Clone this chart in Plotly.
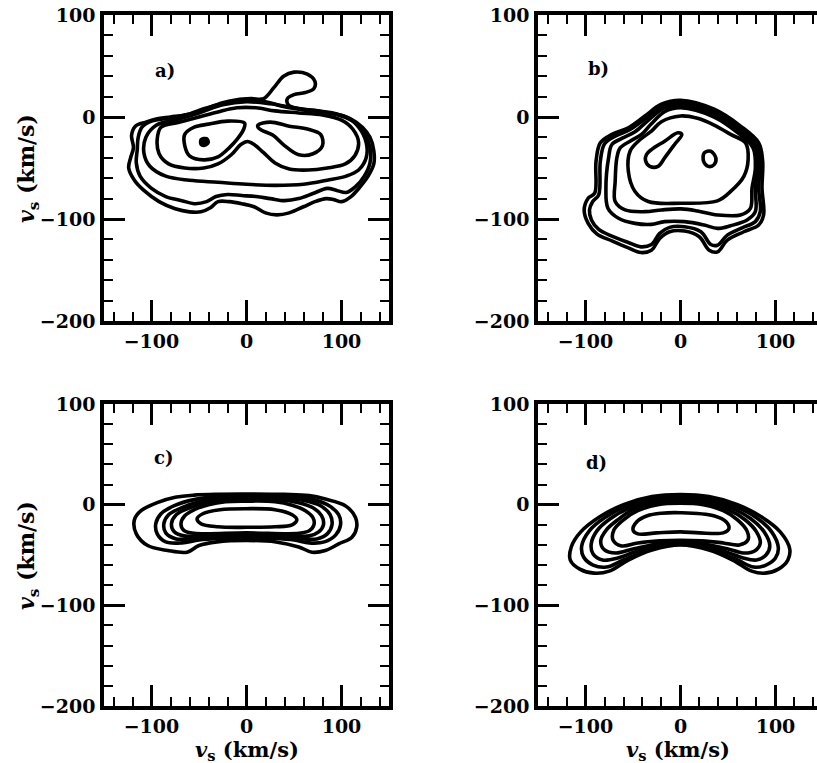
import plotly.graph_objects as go

# ---------------- data: contour lines (km/s) ----------------
# panel a)
A1 = [(-106,-5),(-95,-2),(-80,0),(-65,2),(-50,5),(-40,9),(-25,14),(-10,17),(5,18),(18,18),
      (29,29),(39,40),(50,44),(64,42),(72,35),(71,28),(62,24),(50,22),(43,18),(44,12),
      (55,8),(75,6),(95,3),(110,-2),(122,-10),(130,-20),(134,-33),(134,-46),(128,-58),(120,-68),
      (110,-78),(100,-83),(92,-81),(84,-80),(72,-83),(60,-88),(45,-94),(32,-96),(20,-94),(8,-88),
      (-5,-85),(-18,-83),(-30,-83),(-38,-89),(-48,-93),(-60,-93),(-75,-90),(-92,-83),(-108,-72),
      (-118,-62),(-124,-50),(-122,-40),(-119,-30),(-121,-18),(-117,-9)]
A2 = [(-100,-4),(-80,-1),(-60,3),(-45,8),(-25,13),(0,16),(20,15),(40,10),(60,7),(80,5),(100,1),
      (115,-6),(124,-16),(130,-30),(130,-45),(124,-58),(115,-68),(105,-74),(95,-72),(85,-70),
      (70,-75),(55,-80),(40,-82),(25,-80),(10,-78),(-5,-77),(-20,-76),(-32,-78),(-42,-83),
      (-55,-85),(-68,-82),(-85,-78),(-100,-70),(-112,-58),(-116,-45),(-115,-32),(-114,-20),(-110,-10)]
A3 = [(-95,-8),(-75,-3),(-50,4),(-25,12),(0,15),(25,13),(50,9),(80,5),(105,0),(118,-10),
      (126,-25),(126,-40),(118,-52),(105,-58),(85,-62),(60,-66),(30,-67),(0,-66),(-30,-64),
      (-60,-62),(-85,-58),(-102,-48),(-108,-35),(-106,-20)]
A4 = [(-90,-10),(-70,-5),(-50,0),(-30,5),(-10,9),(10,9),(30,6),(55,4),(80,2),(100,-3),(112,-12),
      (118,-25),(114,-38),(104,-46),(85,-50),(65,-52),(45,-51),(30,-45),(18,-35),(8,-27),(1,-24),
      (-6,-27),(-16,-37),(-30,-46),(-45,-50),(-65,-50),(-82,-46),(-92,-36),(-94,-22)]
A5L = [(-65,-17),(-55,-10),(-40,-7),(-20,-4),(-2,-6),(-3,-12),(-10,-22),(-18,-30),(-30,-39),
       (-45,-42),(-60,-38),(-65,-28)]
A5R = [(12,-8),(25,-5),(45,-9),(65,-12),(78,-17),(80,-28),(70,-36),(55,-37),(40,-28),(28,-18),
       (16,-13),(12,-10)]
A6 = [(-48,-22),(-42,-21),(-40,-25),(-44,-28),(-48,-27)]

# panel b)
B1 = [(0,16.4),(35.4,7.6),(63.2,-8.9),(82.3,-25.3),(86.5,-43.4),(85.8,-69.7),(87.5,-96),(82.3,-105.9),
      (66.7,-112.5),(49.3,-120.7),(38.9,-132.2),(30.2,-130.6),(19.8,-117.4),(4.2,-111.8),(-11.5,-112.5),
      (-21.9,-119.1),(-30.6,-130.6),(-41.7,-132.9),(-54.9,-128.3),(-72.2,-121.4),(-87.8,-114.8),
      (-97.2,-104.3),(-101.4,-91.1),(-97.2,-79.6),(-90.3,-74.7),(-88.9,-43.4),(-84.4,-25.3),
      (-72.2,-17.1),(-54.9,-10.5),(-37.5,1),(-20.1,12.5)]
B2 = [(0,14.1),(35.4,5.3),(63.2,-11.2),(80.6,-26.9),(84,-43.4),(82.3,-69.7),(84,-92.8),(78.8,-102.6),
      (64.9,-108.6),(49.3,-115.8),(38.9,-125.7),(31.9,-125),(21.5,-112.5),(4.2,-107.6),(-11.5,-108.2),
      (-21.9,-114.1),(-30.6,-125),(-41.7,-127.3),(-54.9,-123),(-72.2,-116.8),(-86.1,-110.2),
      (-93.75,-101),(-95.8,-91.1),(-92.4,-82.9),(-86.1,-76.3),(-84.4,-43.4),(-79.9,-26.3),
      (-68.75,-18.75),(-53.1,-12.2),(-35.8,-0.7),(-18.4,10.9)]
B3 = [(0,11.8),(35.4,2.6),(62.5,-13.8),(78.8,-28.6),(81.6,-46.7),(78.8,-69.7),(78.8,-92.8),(70.1,-101),
      (52.8,-106.6),(38.9,-109.2),(25,-105.9),(4.2,-102.6),(-16.7,-102.6),(-30.6,-105.3),(-47.9,-104.3),
      (-65.3,-99.3),(-76.4,-89.5),(-78.5,-69.7),(-75.7,-40.1),(-72.2,-27),(-61.8,-21),(-47.9,-14.5),
      (-34,-3.3),(-17.4,8.6)]
B4 = [(0,9.2),(35.4,0),(61.5,-16.4),(76.4,-30.3),(78.8,-50),(75.3,-69.7),(73.6,-89.5),(63.2,-96),
      (38.9,-96),(18,-92.1),(0.7,-90.1),(-20.1,-91.1),(-37.5,-92.8),(-58.3,-91.1),(-68.75,-82.9),
      (-68.75,-63.2),(-67,-40.1),(-63.5,-30.3),(-53.1,-23.7),(-41,-17.1),(-30.6,-6.6),(-16.7,5.3)]
B5 = [(0,1),(18,-1.3),(35.4,-7.9),(52.8,-17.1),(68.4,-25.3),(71.2,-41.8),(66.7,-58.2),(52.8,-73),
      (38.9,-82.2),(0.7,-84.5),(-34,-82.9),(-47.9,-73),(-54.9,-53.3),(-53.1,-33.6),(-44.4,-23.7),
      (-30.6,-13.8),(-20.1,-4.6)]
B6L = [(-35.8,-36.8),(-30.6,-31.9),(-16.7,-23.7),(-2.8,-15.5),(1.4,-17.1),(-6.25,-26.9),(-16.7,-40.1),
       (-23.6,-48.4),(-32.3,-48.4),(-36.8,-42.8)]
B6R = [(25,-35.2),(31.9,-33.6),(37.2,-40.1),(35.4,-46.7),(29.2,-48.4),(24.3,-43.4)]

# panel c)
C1 = [(0,10.6),(40,10.2),(66,9),(83,5.6),(104,-1),(114.6,-12.5),(116,-22.4),(111,-32.3),(97,-39),
      (83,-45.5),(69,-47.2),(55,-42),(31,-37),(0,-35.6),(-31,-37),(-50,-40.6),(-62.5,-47.2),
      (-83,-45.5),(-104,-40.6),(-116,-29),(-118,-15),(-111,-6),(-94,2),(-75,7.3),(-55,9.5),(-30,10.4)]
C2 = [(0,8.5),(40,8),(65,6),(85,0),(97,-10),(99,-20),(94,-30),(82,-37),(66,-38),(50,-35),(25,-33.5),
      (0,-33),(-25,-33.5),(-50,-35),(-68,-38),(-85,-37),(-94,-29),(-95.5,-19),(-90,-9),(-76,-1),
      (-55,5),(-30,8)]
C3 = [(0,7),(40,6.5),(62,4),(78,-1),(88,-10),(90,-20),(85,-29),(74,-34),(60,-34),(40,-32),(0,-31.5),
      (-40,-32),(-60,-34),(-74,-34),(-85,-28),(-87,-19),(-82,-10),(-68,-3),(-50,3),(-28,6.5)]
C4 = [(0,5.5),(35,5),(55,2),(70,-3),(79,-11),(81,-20),(76,-27),(66,-31),(50,-31),(0,-30),(-50,-31),
      (-66,-31),(-76,-27),(-79,-19),(-74,-10),(-62,-4),(-45,1.5),(-25,4.8)]
C5 = [(0,3.5),(30,3),(48,-0.5),(62,-6),(70,-13),(71,-20),(66,-26),(55,-28.5),(0,-28),(-55,-28.5),
      (-66,-25.5),(-69,-19),(-65,-11),(-55,-5),(-40,0),(-22,3)]
C6 = [(0,-4),(30,-5),(48,-10),(53,-15),(48,-20),(30,-22),(0,-22.5),(-30,-22),(-48,-19),(-52,-14),
      (-46,-9),(-28,-5)]

# panel d)
D1 = [(0,10),(30,8),(60,0),(85,-12),(105,-27),(115,-44),(113,-55),(103,-64),(89,-68),(75,-66),
      (55,-55),(30,-45),(0,-40),(-30,-45),(-55,-55),(-75,-66),(-91,-68),(-106,-64),(-116,-55),
      (-115,-42),(-105,-27),(-85,-12),(-60,0),(-30,8)]
D2 = [(0,8),(30,6),(58,-2),(80,-13),(96,-27),(103,-43),(100,-53),(90,-60),(77,-62),(60,-55),(30,-44),
      (0,-39),(-30,-44),(-60,-55),(-78,-62),(-92,-60),(-102,-52),(-104,-41),(-96,-26),(-80,-13),
      (-58,-2),(-30,6)]
D3 = [(0,6),(28,4),(54,-3.5),(74,-14),(88,-27),(94,-41),(90,-50),(80,-55),(66,-53),(48,-47),(25,-41),
      (0,-38),(-25,-41),(-48,-47),(-66,-53),(-82,-55),(-92,-49),(-94,-39),(-88,-26),(-74,-14),
      (-54,-3.5),(-28,4)]
D4 = [(0,4),(26,2),(50,-5),(68,-15),(80,-27),(84,-38),(78,-46),(66,-48),(50,-44),(25,-39),(0,-37),
      (-25,-39),(-50,-44),(-68,-48),(-80,-45),(-84,-36),(-78,-25),(-66,-15),(-50,-5),(-26,2)]
D5 = [(0,1.5),(24,0),(45,-6),(60,-15),(70,-26),(71,-35),(62,-40),(45,-38),(22,-36),(0,-35.5),
      (-22,-36),(-45,-38),(-62,-41),(-71,-35),(-70,-25),(-60,-15),(-45,-6),(-24,0)]
D6 = [(0,-8),(35,-11),(48,-17),(51,-24),(45,-28),(20,-28),(0,-27),(-25,-28),(-45,-29),(-50,-25),
      (-46,-17),(-35,-11),(-20,-8.5)]

PANELS = {
    "a": [A1, A2, A3, A4, A5L, A5R],
    "b": [B1, B2, B3, B4, B5, B6L, B6R],
    "c": [C1, C2, C3, C4, C5, C6],
    "d": [D1, D2, D3, D4, D5, D6],
}
FILLED = {"a": [A6]}
LETTERS = ["a)", "b)", "c)", "d)"]
XTICKS = [-100, 0, 100]
YTICKS = [-200, -100, 0, 100]
AXIS_LABEL = "<i>v</i><sub>s</sub> (km/s)"

# ---------------- figure ----------------
W, H = 817, 763
FONT = "DejaVu Serif"
fig = go.Figure()
axes = {"a": ("x", "y"), "b": ("x2", "y2"), "c": ("x3", "y3"), "d": ("x4", "y4")}


def closed(pts):
    xs = [p[0] for p in pts] + [pts[0][0]]
    ys = [p[1] for p in pts] + [pts[0][1]]
    return xs, ys


for key, lines in PANELS.items():
    xa, ya = axes[key]
    for pts in lines:
        xs, ys = closed(pts)
        fig.add_trace(go.Scatter(x=xs, y=ys, mode="lines", xaxis=xa, yaxis=ya,
                                 line=dict(color="black", width=3.6, shape="spline", smoothing=1.0),
                                 showlegend=False, hoverinfo="skip"))
    for pts in FILLED.get(key, []):
        xs, ys = closed(pts)
        fig.add_trace(go.Scatter(x=xs, y=ys, mode="lines", xaxis=xa, yaxis=ya, fill="toself",
                                 fillcolor="black",
                                 line=dict(color="black", width=3, shape="spline", smoothing=1.0),
                                 showlegend=False, hoverinfo="skip"))


def xdom(l, r):
    return [l / W, min(r / W, 1.0)]


def ydom(t, b):
    return [1 - b / H, 1 - t / H]


tickfont = dict(family=FONT, size=19, color="black", weight="bold")
titlefont = dict(family=FONT, size=21, color="black", weight="bold")
base = dict(showline=True, linecolor="black", linewidth=3.5, ticks="inside", ticklen=21,
            tickwidth=2.6, tickcolor="black", showgrid=False, zeroline=False, tickfont=tickfont,
            automargin=False,
            minor=dict(ticks="inside", ticklen=9, tickwidth=2.4, tickcolor="black", dtick=20,
                       showgrid=False))

layout = dict(width=W, height=H, paper_bgcolor="white", plot_bgcolor="white",
              margin=dict(l=0, r=0, t=0, b=0, autoexpand=False), showlegend=False)

geo = {
    "a": dict(xd=xdom(104, 389), yd=ydom(15, 321), xr=[-150, 150], mirror_y="ticks"),
    "b": dict(xd=xdom(538, 817), yd=ydom(15, 321), xr=[-150, 143.7], mirror_y=False),
    "c": dict(xd=xdom(104, 389), yd=ydom(404, 706), xr=[-150, 150], mirror_y="ticks"),
    "d": dict(xd=xdom(538, 817), yd=ydom(404, 706), xr=[-150, 143.7], mirror_y=False),
}
names = {"a": ("xaxis", "yaxis"), "b": ("xaxis2", "yaxis2"),
         "c": ("xaxis3", "yaxis3"), "d": ("xaxis4", "yaxis4")}

for key, g in geo.items():
    xn, yn = names[key]
    xa, ya = axes[key]
    layout[xn] = dict(base, domain=g["xd"], range=g["xr"], tickvals=XTICKS, anchor=ya,
                      mirror="ticks", ticklabelstandoff=0)
    layout[yn] = dict(base, domain=g["yd"], range=[-200, 100], tickvals=YTICKS, anchor=xa,
                      mirror=g["mirror_y"], ticklabelstandoff=1)

fig.update_layout(**layout)

letter_pos = {"a": (-98, 46), "b": (-100, 48), "c": (-100, 47), "d": (-102, 42)}
for key, txt in zip(["a", "b", "c", "d"], LETTERS):
    xa, ya = axes[key]
    fig.add_annotation(x=letter_pos[key][0], y=letter_pos[key][1], xref=xa, yref=ya, text=txt,
                       showarrow=False, xanchor="left", yanchor="middle",
                       font=dict(family=FONT, size=18, color="black", weight="bold"))

# axis titles (placed as paper annotations so they sit where the reference has them)
for key in ("c", "d"):
    g = geo[key]
    fig.add_annotation(x=(g["xd"][0] + g["xd"][1]) / 2, y=1 - 750 / H, xref="paper", yref="paper",
                       text=AXIS_LABEL, showarrow=False, xanchor="center", yanchor="middle",
                       font=titlefont)
for key in ("a", "c"):
    g = geo[key]
    fig.add_annotation(x=28 / W, y=(g["yd"][0] + g["yd"][1]) / 2, xref="paper", yref="paper",
                       text=AXIS_LABEL, showarrow=False, xanchor="center", yanchor="middle",
                       textangle=-90, font=dict(titlefont, size=22))

fig.write_html("out.html")
